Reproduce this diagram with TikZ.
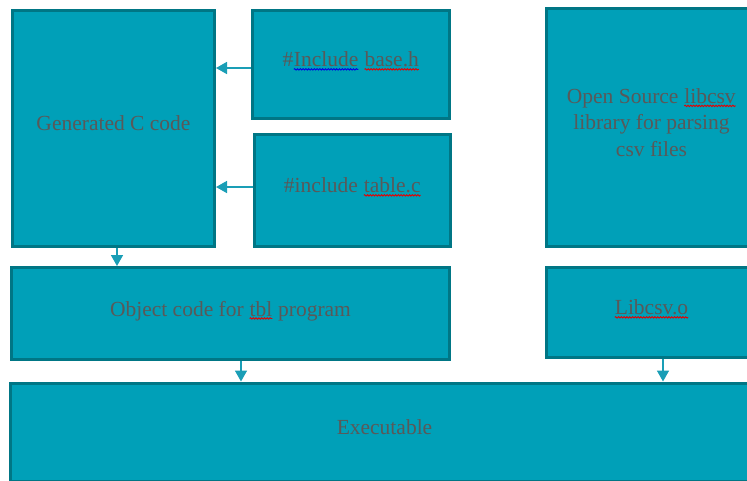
\documentclass[tikz,border=0pt]{standalone}
\usepackage{fontspec}
\setmainfont{Liberation Serif}
\usetikzlibrary{arrows.meta,calc,decorations.pathmorphing}
\definecolor{boxfill}{RGB}{0,160,184}
\definecolor{boxline}{RGB}{0,118,133}
\definecolor{arrowcol}{RGB}{26,158,182}
\definecolor{txtgray}{RGB}{89,89,89}
\definecolor{spellred}{RGB}{230,0,0}
\definecolor{spellblue}{RGB}{0,0,230}
% wavy spell-check underline
\newcommand{\spell}[2][spellred]{\tikz[baseline=(w.base),x=1pt,y=1pt]{\node[draw=none,fill=none,
  minimum width=0pt,minimum height=0pt,text depth=,inner sep=0pt,outer sep=0pt] (w) {#2};
\draw[#1,line width=0.9pt,decorate,decoration={snake,amplitude=0.7pt,segment length=2.8pt}]
([yshift=-2.4pt]w.base west) -- ([yshift=-2.4pt]w.base east);}}

\begin{document}
\begin{tikzpicture}[x=1pt,y=-1pt,>={Triangle[length=11pt,width=12pt]},
  part/.style={draw=boxline,line width=3pt,fill=boxfill,text=txtgray,
    font=\fontsize{21.5}{26.5}\selectfont,align=center,inner sep=0pt,text depth=10pt},
  link/.style={->,arrowcol,line width=1.6pt}]
\useasboundingbox (0,0) rectangle (747,480);
\node[part,minimum width=202pt,minimum height=236pt] (cgen) at (113.5,128.5) {Generated C code};
\node[part,minimum width=197pt,minimum height=108pt] (base) at (351,64.5) {\#\spell[spellblue]{Include} \spell{base.h}};
\node[part,minimum width=196pt,minimum height=112pt] (table) at (352.5,190.5) {\#include \spell{table.c}};
\node[part,minimum width=211pt,minimum height=238pt] (csv) at (651.5,127.5) {Open Source \spell{libcsv}\\library for parsing\\csv files};
\node[part,minimum width=438pt,minimum height=92pt] (obj) at (230.5,313.5) {Object code for \spell{tbl} program};
\node[part,minimum width=211pt,minimum height=90pt] (lib) at (651.5,312.5) {\spell{Libcsv.o}};
\node[part,minimum width=749pt,minimum height=98pt] (exe) at (384.5,432) {Executable};
\draw[link] (base.west |- 0,68) -- (cgen.east |- 0,68);
\draw[link] (table.west |- 0,187) -- (cgen.east |- 0,187);
\draw[link] ([xshift=3.5pt]cgen.south) -- ([xshift=3.5pt]cgen.south |- obj.north);
\draw[link] ([xshift=10.5pt]obj.south) -- ([xshift=10.5pt]obj.south |- exe.north);
\draw[link] ([xshift=11.5pt]lib.south) -- ([xshift=11.5pt]lib.south |- exe.north);
\end{tikzpicture}
\end{document}
